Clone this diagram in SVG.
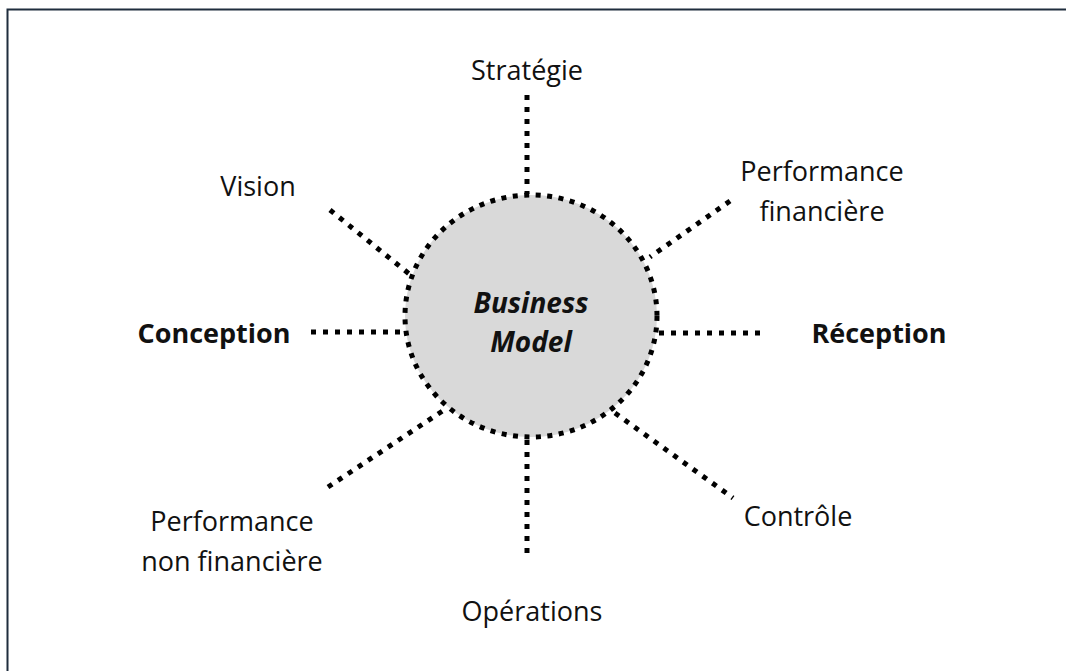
<svg xmlns="http://www.w3.org/2000/svg" width="1066" height="671" viewBox="0 0 1066 671">
<style>
.t{font-family:"Open Sans","Noto Sans","Liberation Sans",sans-serif;font-size:27px;fill:#111;text-anchor:middle}
.b{font-weight:bold}
.bi{font-weight:bold;font-style:italic;font-size:28px}
.c{stroke:#000;stroke-width:5;stroke-dasharray:5 7;fill:none}
</style>
<rect width="1066" height="671" fill="#fff"/>
<path d="M7.5,680 V9.5 H1070" fill="none" stroke="#1f2d3d" stroke-width="2"/>
<g id="connectors">
<line class="c" x1="527" y1="95" x2="527" y2="194"/>
<line class="c" x1="527" y1="440" x2="527" y2="553"/>
<line class="c" x1="311" y1="332" x2="404" y2="332"/>
<line class="c" x1="659" y1="333" x2="766" y2="333"/>
<line class="c" x1="330" y1="210" x2="413" y2="277"/>
<line class="c" x1="730" y1="201" x2="650" y2="257"/>
<line class="c" x1="328" y1="487" x2="447" y2="408"/>
<line class="c" x1="615" y1="413" x2="733" y2="498"/>
</g>
<g id="center">
<ellipse cx="531" cy="316" rx="126" ry="121" fill="#d9d9d9" stroke="#000" stroke-width="5" stroke-dasharray="5 6.5"/>
<text class="t bi" x="531" y="313">Business</text>
<text class="t bi" x="531" y="352">Model</text>
</g>
<g id="strategie"><text class="t" x="527" y="80">Stratégie</text></g>
<g id="vision"><text class="t" x="258" y="196">Vision</text></g>
<g id="perf-fin"><text class="t" x="822" y="181">Performance</text><text class="t" x="822" y="221">financière</text></g>
<g id="conception"><text class="t b" x="214" y="343">Conception</text></g>
<g id="reception"><text class="t b" x="879" y="343">Réception</text></g>
<g id="perf-nonfin"><text class="t" x="232" y="531">Performance</text><text class="t" x="232" y="571">non financière</text></g>
<g id="controle"><text class="t" x="798" y="526">Contrôle</text></g>
<g id="operations"><text class="t" x="532" y="621">Opérations</text></g>
</svg>
